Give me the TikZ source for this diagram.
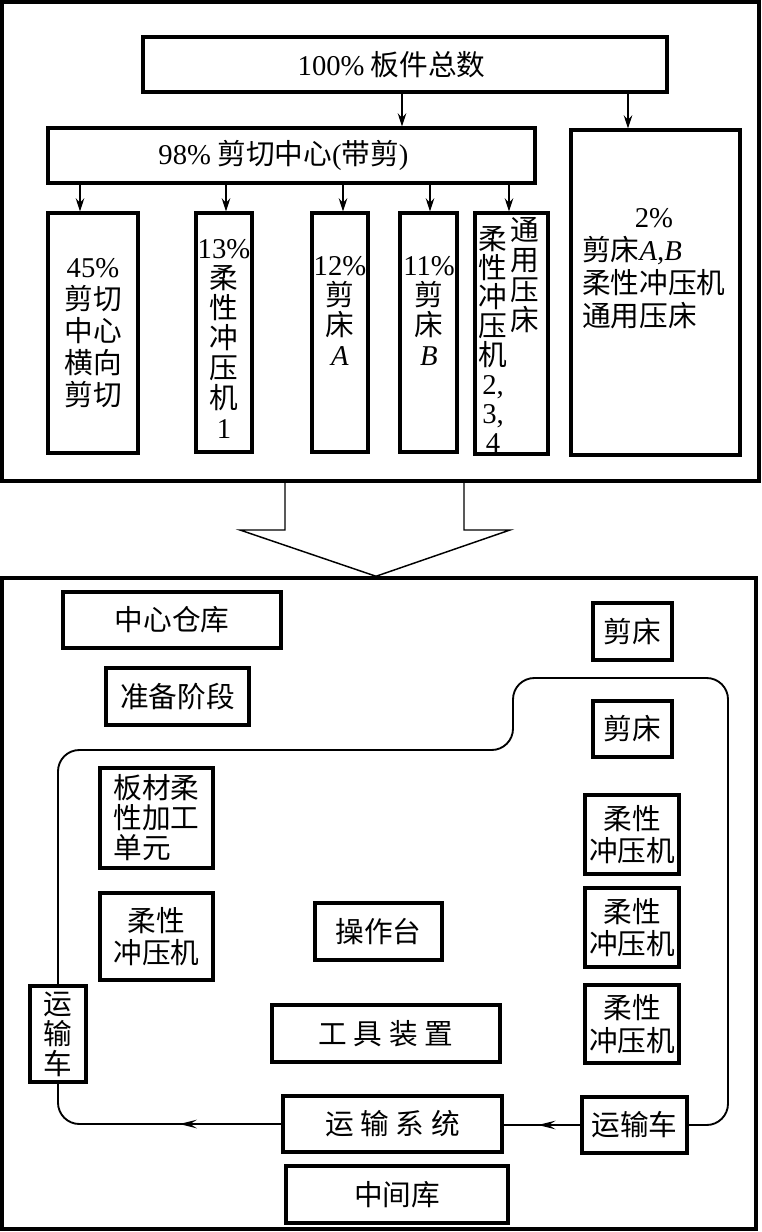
\documentclass[tikz,border=0pt]{standalone}
\usepackage{fontspec}
\setmainfont{Noto Sans CJK SC}
\newfontfamily\tnr{Liberation Serif}
\usetikzlibrary{arrows.meta,calc,decorations.markings}

\newcommand\percnum[1]{{\tnr #1\%}}
\newcommand\itl[1]{{\tnr\itshape #1}}
\newcommand\gap{\hspace{5pt}}

\tikzset{
  box/.style={draw, line width=2.3pt, inner sep=0pt, align=center},
  frame/.style={draw, line width=2.6pt, inner sep=0pt},
  txt/.style={inner sep=0pt, align=center},
  press/.style={box, font=\fontsize{21.5pt}{24.5pt}\selectfont},
  arr/.style={-{Stealth[length=10pt,width=6.5pt,inset=3.5pt]}, line width=0.9pt},
  track/.style={line width=1.4pt, rounded corners=16pt},
  midarrow/.style={postaction={decorate}, decoration={markings,
    mark=at position #1 with {\arrow{Stealth[length=13pt,width=6.5pt,inset=5pt]}}}},
}

\begin{document}
\begin{tikzpicture}[x=0.75pt, y=-0.75pt, font=\fontsize{21.5pt}{22.5pt}\selectfont]
  \useasboundingbox (0,0) rectangle (762,1232);

  % upper part: share of the parts
  \node[frame, minimum width=567.75pt, minimum height=359.25pt] (upper) at (380.5,241.5) {};
  \node[box, minimum width=393pt, minimum height=41.25pt] (total) at (405,64.5)
    {\percnum{100} 板件总数\hspace*{20pt}};
  \node[box, minimum width=365.25pt, minimum height=41.25pt] (cutcenter) at (291.5,155.5)
    {\percnum{98} 剪切中心{\tnr(}带剪{\tnr)}\hspace*{12pt}};
  \node[box, minimum width=126.75pt, minimum height=243.75pt] (rest) at (655.5,292.5) {};
  \node[txt, anchor=north west] (resttext) at (582,206) {%
    \begin{tabular}{@{}l@{}}
      \multicolumn{1}{c}{\percnum{2}}\\
      剪床\itl{A,B}\\
      柔性冲压机\\
      通用压床
    \end{tabular}};

  \node[box, minimum width=67.5pt, minimum height=180pt, font=\fontsize{21.5pt}{24pt}\selectfont]
    (cut45) at (93,333) {\percnum{45}\\剪切\\中心\\横向\\剪切};
  \node[box, minimum width=42pt, minimum height=179.25pt] (press1) at (224,332.5) {};
  \node[txt] (press1text) at (224,338.5) {\percnum{13}\\柔\\性\\冲\\压\\机\\{\tnr 1}};
  \node[box, minimum width=42pt, minimum height=179.25pt] (shearA) at (340,332.5) {};
  \node[txt] (shearAtext) at (340,311) {\percnum{12}\\剪\\床\\\itl{A}};
  \node[box, minimum width=42.75pt, minimum height=179.25pt] (shearB) at (428.5,332.5) {};
  \node[txt] (shearBtext) at (429,311) {\percnum{11}\\剪\\床\\\itl{B}};
  \node[box, minimum width=54.75pt, minimum height=180.75pt] (general) at (511.5,333.5) {};
  \node[txt, font=\fontsize{21.5pt}{21.75pt}\selectfont] (generalL) at (493,339)
    {柔\\性\\冲\\压\\机\\{\tnr 2,}\\{\tnr 3,}\\{\tnr 4}};
  \node[txt] (generalR) at (525,275) {通\\用\\压\\床};

  \draw[arr] (402,0 |- total.south) -- (402,0 |- cutcenter.north);
  \draw[arr] (628,0 |- total.south) -- (628,0 |- rest.north);
  \foreach \x/\t in {80/cut45, 226/press1, 343/shearA, 430/shearB, 509/general}
    \draw[arr] (\x,0 |- cutcenter.south) -- (\x,0 |- \t.north);

  % lower part: layout of the shop
  \node[frame, minimum width=565.5pt, minimum height=488.25pt] (lower) at (379,903.5) {};
  \coordinate (tip) at (376,0 |- lower.north);
  \draw[line width=1.1pt] (285,0 |- upper.south) -- (285,530) -- (240,530) -- (tip)
    -- (510,530) -- (464,530) -- (464,0 |- upper.south);

  \node[box, minimum width=163.5pt, minimum height=42pt] (store) at (172,620) {中心仓库};
  \node[box, minimum width=107.25pt, minimum height=42.75pt] (prep) at (177.5,696.5) {准备阶段};
  \node[box, minimum width=59.25pt, minimum height=42.75pt] (shear1) at (632.5,631.5) {剪床};
  \node[box, minimum width=59.25pt, minimum height=42pt] (shear2) at (632.5,729) {剪床};
  \node[box, minimum width=84.75pt, minimum height=75pt, align=left] (cell) at (156.5,818)
    {板材柔\\性加工\\单元};
  \node[press, minimum width=84.75pt, minimum height=65.25pt] (pressL) at (156.5,936.5) {柔性\\冲压机};
  \node[box, minimum width=95.25pt, minimum height=42.75pt] (console) at (378.5,931.5) {操作台};
  \node[press, minimum width=70.5pt, minimum height=59.25pt] (pressR1) at (632,834.5) {柔性\\冲压机};
  \node[press, minimum width=70.5pt, minimum height=59.25pt] (pressR2) at (632,927.5) {柔性\\冲压机};
  \node[press, minimum width=70.5pt, minimum height=58.5pt] (pressR3) at (632,1024) {柔性\\冲压机};
  \node[box, minimum width=171pt, minimum height=42.75pt] (tools) at (386,1033.5) {工\gap 具\gap 装\gap 置};
  \node[box, minimum width=42pt, minimum height=72pt] (cartL) at (58,1034) {运\\输\\车};
  \node[box, minimum width=164.25pt, minimum height=42pt] (transport) at (392.5,1124)
    {运\gap 输\gap 系\gap 统};
  \node[box, minimum width=78.75pt, minimum height=42pt] (cartR) at (634.5,1125) {运输车};
  \node[box, minimum width=166.5pt, minimum height=42.75pt] (buffer) at (397,1194.5) {中间库};

  % transport loop
  \draw[track] (cartL.north) -- (58,750) -- (513,750) -- (513,678) -- (728,678)
    -- (728,0 |- cartR.east) -- (cartR.east);
  \draw[line width=1.4pt, midarrow=0.55] (cartR.west) -- (cartR.west -| transport.east);
  \draw[track, midarrow=0.4] (transport.west) -- (58,0 |- transport.west) -- (cartL.south);
\end{tikzpicture}
\end{document}
